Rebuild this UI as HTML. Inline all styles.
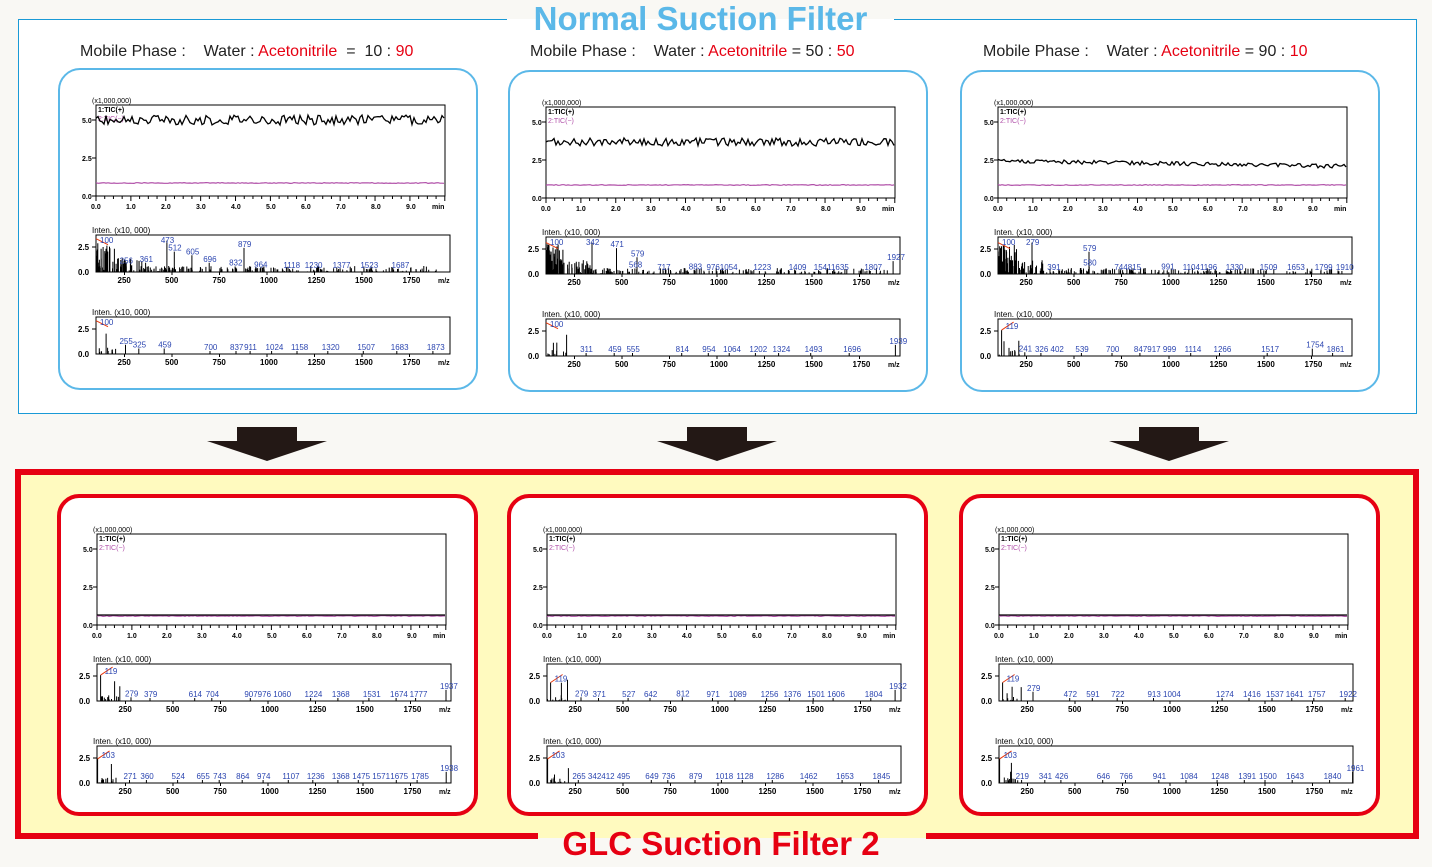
<!DOCTYPE html>
<html><head><meta charset="utf-8">
<style>
body{margin:0;width:1432px;height:867px;background:#f9f8f4;position:relative;overflow:hidden;font-family:"Liberation Sans",sans-serif}
.topbox{position:absolute;left:18px;top:19px;width:1397px;height:393px;border:1px solid #1a9ad6;background:#fff}
.ttl{position:absolute;font-weight:bold;font-size:33px;white-space:nowrap;text-align:center}
.mp{position:absolute;top:43px;font-size:16px;color:#222;white-space:nowrap}
.mp .r{color:#e60012}
.panel{position:absolute;width:416px;height:318px;border-radius:22px;background:#fff}
.pt{border:2px solid #5bb8e8}
.pb{border:4px solid #e60012;width:413px;height:314px}
.bot{position:absolute;left:15px;top:469px;width:1392px;height:358px;border:6px solid #e60012;background:#fffabf}
svg{position:absolute;left:0;top:0}
</style></head><body>
<div class="topbox"></div>
<div class="ttl" style="left:507px;top:0px;width:387px;background:linear-gradient(#f9f8f4 0 19px,#fff 19px);color:#5bb8e8;line-height:38px">Normal Suction Filter</div>
<div class="mp" style="left:80px">Mobile Phase :&nbsp;&nbsp;&nbsp;&nbsp;Water : <span class="r">Acetonitrile</span>&nbsp; = &nbsp;10 : <span class="r">90</span></div>
<div class="mp" style="left:530px">Mobile Phase :&nbsp;&nbsp;&nbsp;&nbsp;Water : <span class="r">Acetonitrile</span> = 50 : <span class="r">50</span></div>
<div class="mp" style="left:983px">Mobile Phase :&nbsp;&nbsp;&nbsp;&nbsp;Water : <span class="r">Acetonitrile</span> = 90 : <span class="r">10</span></div>
<div class="panel pt" style="left:58px;top:68px" id="p0"></div>
<div class="panel pt" style="left:508px;top:70px" id="p1"></div>
<div class="panel pt" style="left:960px;top:70px" id="p2"></div>
<svg width="1432" height="867" style="z-index:1">
<g fill="#231815"><polygon points="237,427 297,427 297,441 327,441 267,461 207,441 237,441"/><polygon points="687,427 747,427 747,441 777,441 717,461 657,441 687,441"/><polygon points="1139,427 1199,427 1199,441 1229,441 1169,461 1109,441 1139,441"/></g></svg>
<div class="bot"></div>
<div class="ttl" style="left:538px;top:825px;width:388px;background:linear-gradient(#fffabf 0 13px,#f9f8f4 13px);color:#e60012;line-height:38px"><span style="position:relative;left:-11px">GLC Suction Filter 2</span></div>
<div class="panel pb" style="left:57px;top:494px" id="p3"></div>
<div class="panel pb" style="left:507px;top:494px" id="p4"></div>
<div class="panel pb" style="left:959px;top:494px" id="p5"></div>
<script>
var D=[
{b:50,m:113,n:5,ms1:[[100,'100',.9],[256,'256',.2],[361,'361',.25],[473,'473',.85],[512,'512',.55],[605,'605',.45],[696,'696',.25],[832,'832',.15],[879,'879',.65],[964,'964',.1],[1118,'1118',.05],[1230,'1230',.05],[1377,'1377',.05],[1523,'1523',.05],[1687,'1687',.05]],ms2:[[100,'100',.9],[255,'255',.25],[325,'325',.15],[459,'459',.15],[700,'700',.05],[837,'837',.05],[911,'911',.05],[1024,'1024',.05],[1158,'1158',.05],[1320,'1320',.05],[1507,'1507',.05],[1683,'1683',.05],[1873,'1873',.05]],d1:1,d2:0},
{b:70,m:113,n:4,ms1:[[100,'100',.85],[342,'342',.85],[471,'471',.7],[579,'579',.45],[568,'568',.15],[717,'717',.05],[883,'883',.1],[976,'9761054',.05],[1223,'1223',.05],[1409,'1409',.05],[1541,'15411635',.05],[1807,'1807',.05],[1927,'1927',.35]],ms2:[[100,'100',.9],[311,'311',.05],[459,'459',.05],[555,'555',.05],[814,'814',.05],[954,'954',.05],[1064,'1064',.05],[1202,'1202',.05],[1324,'1324',.05],[1493,'1493',.05],[1696,'1696',.05],[1939,'1939',.3]],d1:1,d2:0},
{b:89,m:113,n:2,ms1:[[100,'100',.85],[279,'279',.85],[579,'579',.6],[580,'580',.2],[391,'391',.05],[744,'744815',.05],[991,'991',.1],[1104,'11041196',.05],[1330,'1330',.05],[1509,'1509',.05],[1653,'1653',.05],[1799,'1799',.05],[1910,'1910',.05]],ms2:[[119,'119',.7],[241,'241',.1],[326,'326 402',.05],[539,'539',.05],[700,'700',.05],[847,'847917 999',.05],[1114,'1114',.05],[1266,'1266',.05],[1517,'1517',.05],[1754,'1754',.2],[1861,'1861',.05]],d1:1,d2:0},
{b:116,m:117,n:0,ms1:[[119,'119',.7],[279,'279',.1],[379,'379',.05],[614,'614',.05],[704,'704',.05],[907,'907976 1060',.05],[1224,'1224',.05],[1368,'1368',.05],[1531,'1531',.05],[1674,'1674',.05],[1777,'1777',.05],[1937,'1937',.3]],ms2:[[103,'103',.65],[271,'271',.05],[360,'360',.05],[524,'524',.05],[655,'655',.05],[743,'743',.05],[864,'864',.05],[974,'974',.05],[1107,'1107',.05],[1236,'1236',.05],[1368,'1368',.05],[1475,'1475 1571',.05],[1675,'1675',.05],[1785,'1785',.05],[1938,'1938',.3]],d1:0,d2:0},
{b:116,m:117,n:0,ms1:[[119,'119',.5],[279,'279',.1],[371,'371',.05],[527,'527',.05],[642,'642',.05],[812,'812',.1],[971,'971',.05],[1089,'1089',.05],[1256,'1256',.05],[1376,'1376',.05],[1501,'1501',.05],[1606,'1606',.05],[1804,'1804',.05],[1932,'1932',.3]],ms2:[[103,'103',.65],[265,'265 342412 495',.05],[649,'649',.05],[736,'736',.05],[879,'879',.05],[1018,'1018',.05],[1128,'1128',.05],[1286,'1286',.05],[1462,'1462',.05],[1653,'1653',.05],[1845,'1845',.05]],d1:0,d2:0},
{b:116,m:117,n:0,ms1:[[119,'119',.5],[279,'279',.25],[472,'472',.05],[591,'591',.05],[722,'722',.05],[913,'913 1004',.05],[1274,'1274',.05],[1416,'1416',.05],[1537,'1537',.05],[1641,'1641',.05],[1757,'1757',.05],[1922,'1922',.05]],ms2:[[103,'103',.65],[219,'219',.05],[341,'341',.05],[426,'426',.05],[646,'646',.05],[766,'766',.05],[941,'941',.05],[1084,'1084',.05],[1248,'1248',.05],[1391,'1391',.05],[1500,'1500',.05],[1643,'1643',.05],[1840,'1840',.05],[1961,'1961',.3]],d1:0,d2:0}];
var seed=3;function R(){seed=(seed*9301+49271)%233280;return seed/233280;}
function X(mz){return 38+(mz-100)*0.19;}
function spec(y0,arr,dense){
 var s='',top=y0,bot=y0+37;
 s+='<rect x="38" y="'+top+'" width="354" height="37" fill="none" stroke="#000" stroke-width="1"/>';
 s+='<text x="34" y="'+(top-2)+'" font-size="8">Inten. (x10, 000)</text>';
 s+='<line x1="34" y1="'+(top+12)+'" x2="38" y2="'+(top+12)+'" stroke="#000"/><text x="20" y="'+(top+15)+'" font-size="8" font-weight="bold">2.5</text><text x="20" y="'+(bot+3)+'" font-size="8" font-weight="bold">0.0</text>';
 var ln='';
 if(dense){for(var i=0;i<260;i++){var mz=100+Math.pow(R(),1.8)*1800;var h=(mz<200?30:mz<350?14:6)*R();ln+='M'+X(mz).toFixed(1)+' '+bot+'v-'+h.toFixed(1);}}
 else{for(var i=0;i<12;i++){var mz=100+R()*120;ln+='M'+X(mz).toFixed(1)+' '+bot+'v-'+(R()*(i<3?22:6)).toFixed(1);}}
 arr.forEach(function(p){var h=p[2]*37;ln+='M'+X(p[0]).toFixed(1)+' '+bot+'v-'+(h>3?h:3).toFixed(1);});
 s+='<path d="'+ln+'" stroke="#000" stroke-width="1" fill="none"/>';
 arr.forEach(function(p,i){var h=p[2]*37;var ty=bot-Math.max(h,3)-1;if(ty<top+8)ty=top+8;
  if(i==0){s+='<line x1="'+X(p[0])+'" y1="'+(bot-h)+'" x2="'+(X(p[0])+12)+'" y2="'+(bot-h+(p[2]>.8?6:-8))+'" stroke="#e8380d"/>';}
  s+='<text x="'+(X(p[0])+(i==0?4:-6))+'" y="'+ty+'" font-size="8" fill="#2b45b0">'+p[1]+'</text>';});
 for(var m=250,k=0;m<=1750;m+=250,k++){s+='<text x="'+(X(m)-7)+'" y="'+(bot+11)+'" font-size="8" font-weight="bold">'+m+'</text><line x1="'+X(m)+'" y1="'+bot+'" x2="'+X(m)+'" y2="'+(bot+3)+'" stroke="#000"/>';}
 s+='<text x="380" y="'+(bot+11)+'" font-size="7" font-weight="bold">m/z</text>';
 return s;}
D.forEach(function(d,idx){
 var el=document.getElementById('p'+idx);var oy=idx>2?1:0,ox=-2;
 var s='<svg width="420" height="322" font-family="Liberation Sans, sans-serif"><g transform="translate('+ox+','+oy+')">';
 s+='<text x="34" y="33" font-size="7">(x1,000,000)</text><text x="40" y="42" font-size="7" font-weight="bold">1:TIC(+)</text><text x="40" y="51" font-size="7" fill="#b04fa8">2:TIC(−)</text>';
 s+='<rect x="38" y="35" width="349" height="91" fill="none" stroke="#000"/>';
 [['5.0',50],['2.5',88],['0.0',126]].forEach(function(t){s+='<text x="24" y="'+(t[1]+3)+'" font-size="7" font-weight="bold">'+t[0]+'</text><line x1="34" y1="'+t[1]+'" x2="38" y2="'+t[1]+'" stroke="#000"/>';});
 for(var i=0;i<10;i++){s+='<text x="'+(33+i*35)+'" y="139" font-size="7" font-weight="bold">'+i+'.0</text>';}
 for(var i=0;i<=40;i++){s+='<line x1="'+(38+i*8.72)+'" y1="126" x2="'+(38+i*8.72)+'" y2="'+(i%4?129:131)+'" stroke="#000"/>';}
 s+='<text x="374" y="139" font-size="7" font-weight="bold">min</text>';
 var p='',q='';for(var x=0;x<=349;x+=2){var y=d.b+(idx==2?x*0.015:0)+(R()-.5)*2*d.n;p+=(x?'L':'M')+(38+x)+' '+y.toFixed(1);q+=(x?'L':'M')+(38+x)+' '+(d.m+(R()-.5)*0.8).toFixed(1);}
 s+='<path d="'+q+'" stroke="#b04fa8" fill="none" stroke-width="1.2"/><path d="'+p+'" stroke="#000" fill="none" stroke-width="1.3"/>';
 s+=spec(165,d.ms1,d.d1)+spec(247,d.ms2,0);
 s+='</g></svg>';el.innerHTML=s;});
</script>
</body></html>
